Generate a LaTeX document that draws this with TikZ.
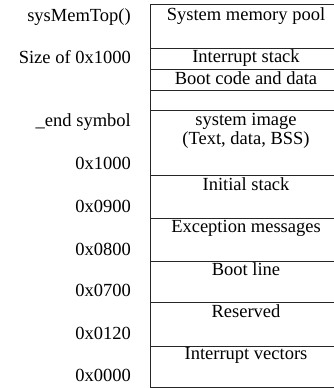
\documentclass[tikz,border=0pt]{standalone}
\usepackage{fontspec}
\setmainfont{Liberation Serif}
\begin{document}
\begin{tikzpicture}[x=1pt,y=-1pt,
  lbl/.style={anchor=base east,inner sep=0pt,font=\fontsize{18.5}{22}\selectfont},
  cell/.style={anchor=base,inner sep=0pt,font=\fontsize{18.5}{22}\selectfont},
  rule/.style={line width=0.9pt,draw=black!85}]
\useasboundingbox (0,0) rectangle (333,388);
% memory map frame
\draw[rule] (342,4.5) -- (150,4.5) -- (150,387) -- (342,387);
\foreach \y in {48,69,90,110,175,218,261,302,346}
  \draw[rule] (150,\y) -- (342,\y);
% region names
\node[cell] (pool) at (246,20) {System memory pool};
\node[cell] (istk) at (246,62) {Interrupt stack};
\node[cell] (boot) at (246,84) {Boot code and data};
\node[cell] (img)  at (246,125) {system image};
\node[cell] (img2) at (246,144) {(Text, data, BSS)};
\node[cell] (init) at (246,190) {Initial stack};
\node[cell] (exc)  at (246,232) {Exception messages};
\node[cell] (bln)  at (246,275) {Boot line};
\node[cell] (res)  at (246,317) {Reserved};
\node[cell] (vec)  at (246,359) {Interrupt vectors};
% address labels
\node[lbl] (a1) at (131,21) {sysMemTop()};
\node[lbl] (a2) at (131,63) {Size of 0x1000};
\node[lbl] (a3) at (131,126) {\_end symbol};
\node[lbl] (a4) at (131,169) {0x1000};
\node[lbl] (a5) at (131,212) {0x0900};
\node[lbl] (a6) at (131,255) {0x0800};
\node[lbl] (a7) at (131,296) {0x0700};
\node[lbl] (a8) at (131,339) {0x0120};
\node[lbl] (a9) at (131,381) {0x0000};
\end{tikzpicture}
\end{document}
